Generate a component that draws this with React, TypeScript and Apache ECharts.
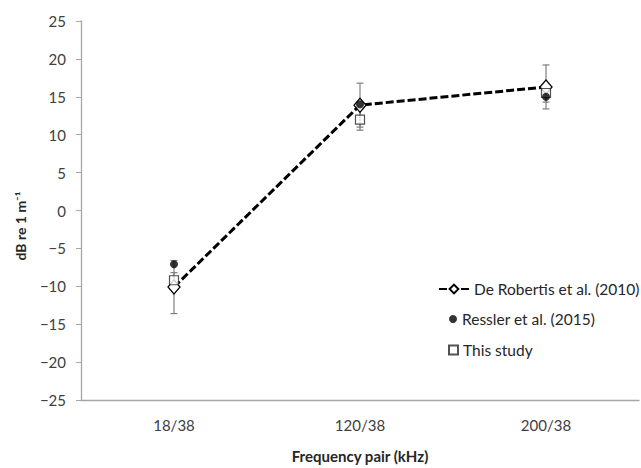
import React, { useEffect, useRef } from "react";
import * as echarts from "echarts";

// Frequency pairs on the category axis
const categories = ["18/38", "120/38", "200/38"];

// De Robertis et al. (2010): mean and ± error
const deRobertis = [-10.1, 13.9, 16.3];
const deRobertisErr = [3.5, 2.9, 2.9];

// Ressler et al. (2015)
const ressler = [-7.1, 14.0, 15.0];

// This study: mean and ± error
const thisStudy = [-9.2, 12.0, 15.5];
const thisStudyErr = [1.0, 1.4, 1.2];

// Value axis ticks
const yMin = -25;
const yMax = 25;
const yStep = 5;

const FONT = "Lato, 'Open Sans', sans-serif";
const LEGEND_NAMES = ["De Robertis et al. (2010)", "Ressler et al. (2015)", "This study"];
const Y_NAME = "dB re 1 m\u207B\u00B9";

const errorData = (mean: number[], err: number[]) =>
  mean.map((m, i) => [i, m - err[i], m + err[i]]);

const errorBarSeries = (name: string, data: number[][]) => ({
  type: "custom",
  name,
  z: 1,
  renderItem: (_params: any, api: any) => {
    const x = api.value(0);
    const lo = api.coord([x, api.value(1)]);
    const hi = api.coord([x, api.value(2)]);
    const half = 3.5;
    const style = { stroke: "#7f7f7f", lineWidth: 1.2 };
    return {
      type: "group",
      children: [
        { type: "line", shape: { x1: lo[0], y1: lo[1], x2: hi[0], y2: hi[1] }, style },
        { type: "line", shape: { x1: lo[0] - half, y1: lo[1], x2: lo[0] + half, y2: lo[1] }, style },
        { type: "line", shape: { x1: hi[0] - half, y1: hi[1], x2: hi[0] + half, y2: hi[1] }, style },
      ],
    };
  },
  data,
  encode: { x: 0, y: [1, 2] },
  silent: true,
});

export default function App() {
  const ref = useRef<HTMLDivElement>(null);

  useEffect(() => {
    if (!ref.current) return;
    const chart = echarts.init(ref.current, undefined, { renderer: "svg" });

    const legendText = { fontFamily: FONT, fontSize: 15.5, color: "#262626" };

    chart.setOption({
      animation: false,
      backgroundColor: "#ffffff",
      grid: { left: 81, right: 2, top: 21, bottom: 64, containLabel: false },
      graphic: [
        {
          type: "text",
          x: 20,
          y: 226,
          rotation: Math.PI / 2,
          style: {
            text: Y_NAME,
            fontFamily: FONT,
            fontSize: 14,
            fontWeight: "bold",
            fill: "#262626",
            align: "center",
            verticalAlign: "middle",
          },
        },
      ],
      legend: [
        {
          data: [LEGEND_NAMES[0]],
          left: 433,
          top: 276,
          itemWidth: 30,
          itemHeight: 11,
          itemGap: 0,
          textStyle: legendText,
          selectedMode: false,
        },
        {
          data: [{ name: LEGEND_NAMES[1], icon: "circle" }],
          left: 444,
          top: 306,
          itemWidth: 8,
          itemHeight: 8,
          textStyle: legendText,
          selectedMode: false,
        },
        {
          data: [{ name: LEGEND_NAMES[2], icon: "rect" }],
          left: 443,
          top: 337,
          itemWidth: 9,
          itemHeight: 9,
          textStyle: legendText,
          selectedMode: false,
        },
      ],
      xAxis: {
        type: "category",
        data: categories,
        boundaryGap: true,
        name: "Frequency pair (kHz)",
        nameLocation: "middle",
        nameGap: 48,
        nameTextStyle: { fontFamily: FONT, fontSize: 15, fontWeight: "bold", color: "#262626" },
        axisLine: { onZero: false, lineStyle: { color: "#a6a6a6", width: 1.3 } },
        axisTick: { show: false },
        axisLabel: { fontFamily: FONT, fontSize: 15, color: "#404040", margin: 17 },
        splitLine: { show: false },
      },
      yAxis: {
        type: "value",
        min: yMin,
        max: yMax,
        interval: yStep,
        axisLine: { show: true, lineStyle: { color: "#a6a6a6", width: 1.3 } },
        axisTick: { show: true, length: 5, lineStyle: { color: "#a6a6a6" } },
        axisLabel: {
          fontFamily: FONT,
          fontSize: 15,
          color: "#404040",
          margin: 15,
          formatter: (v: number) => (v < 0 ? "\u2212" + Math.abs(v) : String(v)),
        },
        splitLine: { show: false },
      },
      series: [
        errorBarSeries("err-dr", errorData(deRobertis, deRobertisErr)),
        errorBarSeries("err-ts", errorData(thisStudy, thisStudyErr)),
        {
          type: "line",
          name: LEGEND_NAMES[0],
          data: deRobertis,
          z: 3,
          symbol: "diamond",
          symbolSize: [12, 14],
          lineStyle: { color: "#000000", width: 3, type: [8, 3] },
          itemStyle: { color: "#ffffff", borderColor: "#000000", borderWidth: 1.3 },
        },
        {
          type: "scatter",
          name: LEGEND_NAMES[2],
          data: thisStudy,
          z: 4,
          symbol: "rect",
          symbolSize: 9,
          itemStyle: { color: "#ffffff", borderColor: "#262626", borderWidth: 1.2 },
        },
        {
          type: "scatter",
          name: LEGEND_NAMES[1],
          data: ressler,
          z: 5,
          symbol: "circle",
          symbolSize: 8,
          itemStyle: { color: "#000000" },
        },
      ],
    });

    return () => chart.dispose();
  }, []);

  return (
    <div
      ref={ref}
      style={{ position: "fixed", left: 0, top: 0, width: 641, height: 468 }}
    />
  );
}
